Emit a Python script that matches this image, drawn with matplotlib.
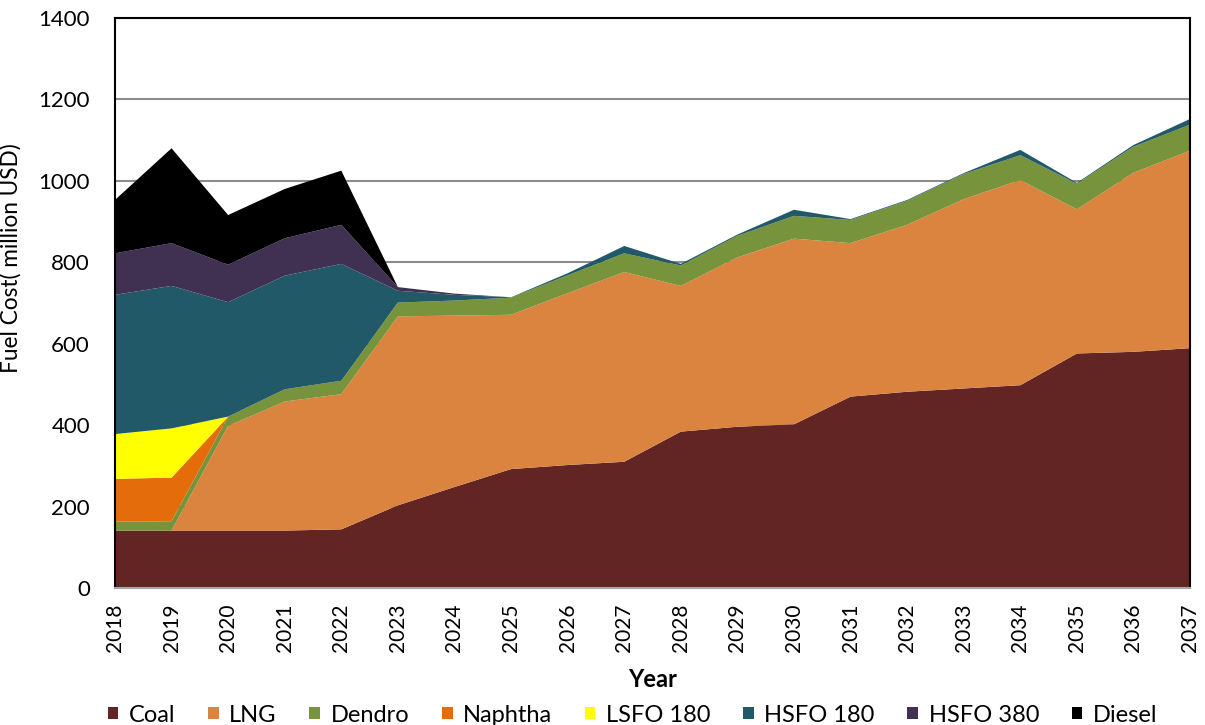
import numpy as np
import matplotlib
matplotlib.use("Agg")
import matplotlib.pyplot as plt
from matplotlib.patches import Patch

plt.rcParams['font.family'] = ['Lato', 'DejaVu Sans']

# fuel cost by source, million USD
years = [str(y) for y in range(2018, 2038)]
coal = [141, 141, 141, 141, 144, 203, 248, 292, 302, 310,
        384, 396, 402, 470, 482, 490, 498, 576, 580, 589]
lng = [0, 0, 257, 317, 332, 464, 421, 379, 422, 466,
       358, 416, 456, 377, 410, 465, 504, 354, 440, 485]
dendro = [22, 23, 23, 30, 33, 34, 37, 42, 44, 46,
          50, 53, 56, 57, 59, 62, 61, 63, 64, 64]
naphtha = [105, 107, 0, 0, 0, 0, 0, 0, 0, 0,
           0, 0, 0, 0, 0, 0, 0, 0, 0, 0]
lsfo180 = [110, 121, 0, 0, 0, 0, 0, 0, 0, 0,
           0, 0, 0, 0, 0, 0, 0, 0, 0, 0]
hsfo180 = [342, 350, 281, 279, 287, 29, 14, 1, 5, 18,
           4, 3, 15, 2, 2, 2, 13, 2, 4, 14]
hsfo380 = [102, 105, 92, 92, 96, 9, 3, 0, 0, 0,
           0, 0, 0, 0, 0, 0, 0, 0, 0, 0]
diesel = [131, 233, 122, 121, 133, 0, 0, 0, 0, 0,
          0, 0, 0, 0, 0, 0, 0, 0, 0, 0]

labels = ['Coal', 'LNG', 'Dendro', 'Naphtha', 'LSFO 180', 'HSFO 180', 'HSFO 380', 'Diesel']
colors = ['#632523', '#DA843F', '#77933C', '#E46C0A', '#FFFF00', '#215968', '#403152', '#000000']

fig = plt.figure(figsize=(12.05, 7.25), dpi=100)
ax = fig.add_axes([0.0954, 0.189, 0.8922, 0.7862])

x = np.arange(len(years))
ax.stackplot(x, coal, lng, dendro, naphtha, lsfo180, hsfo180, hsfo380, diesel,
             colors=colors, labels=labels, linewidth=0)

ax.set_xlim(0, len(years) - 1)
ax.set_ylim(0, 1400)
ax.set_yticks(range(0, 1401, 200))
ax.set_xticks(x)
ax.set_xticklabels(years, rotation=90)
ax.tick_params(axis='y', length=0, pad=18, labelsize=16)
ax.tick_params(axis='x', length=0, pad=11, labelsize=15)

ax.set_axisbelow(True)
ax.grid(axis='y', color='#8c8c8c', linewidth=1.5)

for side in ['left', 'top', 'right']:
    ax.spines[side].set_color('black')
    ax.spines[side].set_linewidth(1.5)
ax.spines['bottom'].set_color('#a6a6a6')
ax.spines['bottom'].set_linewidth(1.5)

ax.set_ylabel('Fuel Cost( million USD)', fontsize=16.3)
ax.yaxis.set_label_coords(-0.0865, 0.579)
ax.set_xlabel('Year', fontsize=17, fontweight='bold', labelpad=12)

handles = [Patch(facecolor=c, edgecolor='none') for c in colors]
fig.legend(handles, labels, loc='lower center', ncol=8, frameon=False,
           fontsize=17, handlelength=0.45, handleheight=0.45, handletextpad=0.45,
           columnspacing=1.38, bbox_to_anchor=(0.525, -0.03))

fig.savefig('out.png', dpi=100)
